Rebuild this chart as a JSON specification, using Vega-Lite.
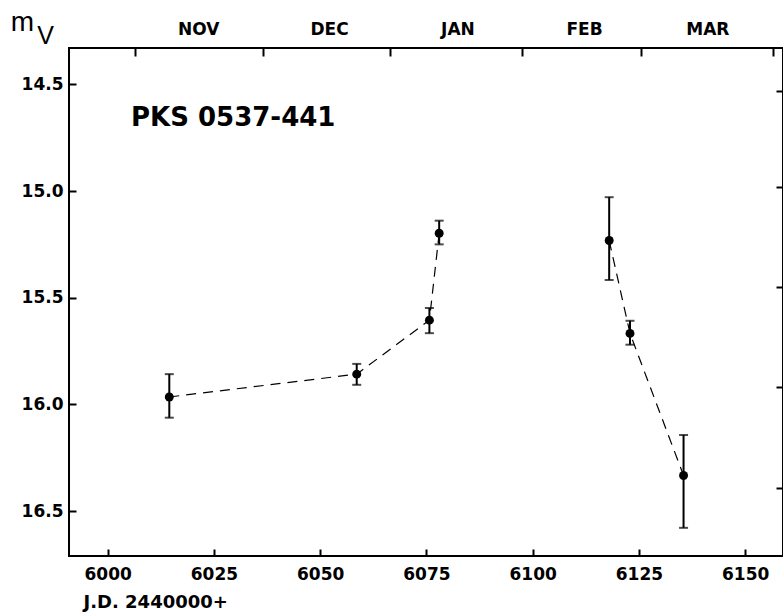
{
  "$schema": "https://vega.github.io/schema/vega-lite/v6.json",
  "width": 714,
  "height": 508,
  "autosize": {"type": "none"},
  "padding": {"left": 69, "top": 48, "right": 0, "bottom": 57},
  "background": "white",
  "title": {
    "text": "PKS 0537-441",
    "anchor": "start",
    "frame": "group",
    "dx": 62,
    "dy": 148,
    "font": "DejaVu Sans",
    "fontWeight": "bold",
    "fontSize": 26,
    "color": "black",
    "baseline": "alphabetic"
  },
  "data": {
    "values": [
      {"jd": 6014.5, "mag": 15.965, "lo": 15.858, "hi": 16.062, "seg": "a"},
      {"jd": 6058.6, "mag": 15.858, "lo": 15.81, "hi": 15.908, "seg": "a"},
      {"jd": 6075.7, "mag": 15.605, "lo": 15.548, "hi": 15.666, "seg": "a"},
      {"jd": 6078.0, "mag": 15.198, "lo": 15.139, "hi": 15.25, "seg": "a"},
      {"jd": 6118.0, "mag": 15.232, "lo": 15.029, "hi": 15.417, "seg": "b"},
      {"jd": 6122.9, "mag": 15.667, "lo": 15.608, "hi": 15.72, "seg": "b"},
      {"jd": 6135.5, "mag": 16.333, "lo": 16.143, "hi": 16.578, "seg": "b"}
    ]
  },
  "resolve": {"axis": {"x": "independent", "y": "independent"}},
  "layer": [
    {
      "mark": {"type": "line", "strokeDash": [10, 7], "strokeWidth": 1.2, "color": "black"},
      "encoding": {
        "x": {
          "field": "jd", "type": "quantitative",
          "scale": {"domain": [5990.9, 6158.9], "nice": false, "zero": false},
          "axis": {
            "orient": "bottom",
            "values": [6000, 6025, 6050, 6075, 6100, 6125, 6150],
            "format": "d",
            "offset": -7,
            "tickSize": 7,
            "labelPadding": 10,
            "labelFlush": false,
            "title": "J.D. 2440000+",
            "titleAnchor": "start",
            "titleAlign": "left",
            "titleX": 14,
            "titleY": 53,
            "titleBaseline": "middle",
            "titleFont": "DejaVu Sans",
            "titleFontWeight": "bold",
            "titleFontSize": 18
          }
        },
        "y": {
          "field": "mag", "type": "quantitative",
          "scale": {"domain": [14.33, 16.71], "reverse": true, "nice": false, "zero": false},
          "axis": {
            "orient": "left",
            "values": [14.5, 15, 15.5, 16, 16.5],
            "format": ".1f",
            "offset": -7,
            "tickSize": 7,
            "labelPadding": 6,
            "title": "m",
            "titleAngle": 0,
            "titleAlign": "center",
            "titleBaseline": "alphabetic",
            "titleX": -54,
            "titleY": -18,
            "titleFont": "Liberation Sans",
            "titleFontWeight": "normal",
            "titleFontSize": 28
          }
        },
        "detail": {"field": "seg"}
      }
    },
    {
      "mark": {"type": "errorbar", "ticks": {"size": 9, "thickness": 2}, "thickness": 2, "color": "black"},
      "encoding": {
        "x": {
          "field": "jd", "type": "quantitative",
          "axis": {
            "orient": "top",
            "values": [6006.5, 6036.5, 6066.5, 6097.5, 6125.5, 6156.5],
            "labels": false,
            "offset": -8,
            "tickSize": 8,
            "title": "V",
            "titleAlign": "center",
            "titleBaseline": "alphabetic",
            "titleX": -24,
            "titleY": -13,
            "titleFont": "Liberation Sans",
            "titleFontWeight": "normal",
            "titleFontSize": 25
          }
        },
        "y": {
          "field": "lo", "type": "quantitative",
          "axis": {
            "orient": "right",
            "values": [14.53, 14.98, 15.45, 15.92, 16.39],
            "labels": false,
            "offset": -7,
            "tickSize": 7,
            "title": null
          }
        },
        "y2": {"field": "hi"}
      }
    },
    {
      "mark": {"type": "circle", "size": 80, "color": "black", "opacity": 1},
      "encoding": {
        "x": {
          "field": "jd", "type": "quantitative",
          "axis": {
            "orient": "top",
            "values": [6021.3, 6052.1, 6082.3, 6112.1, 6141.1],
            "labelExpr": "datum.value < 6030 ? 'NOV' : datum.value < 6060 ? 'DEC' : datum.value < 6090 ? 'JAN' : datum.value < 6120 ? 'FEB' : 'MAR'",
            "ticks": false,
            "labelPadding": 10,
            "labelFlush": false,
            "title": null
          }
        },
        "y": {"field": "mag", "type": "quantitative", "axis": null}
      }
    }
  ],
  "config": {
    "view": {"stroke": "black", "strokeWidth": 2},
    "axis": {
      "domain": false,
      "grid": false,
      "tickColor": "black",
      "tickWidth": 2,
      "labelFont": "DejaVu Sans",
      "labelFontWeight": "bold",
      "labelFontSize": 17,
      "labelColor": "black",
      "titleColor": "black"
    }
  }
}
